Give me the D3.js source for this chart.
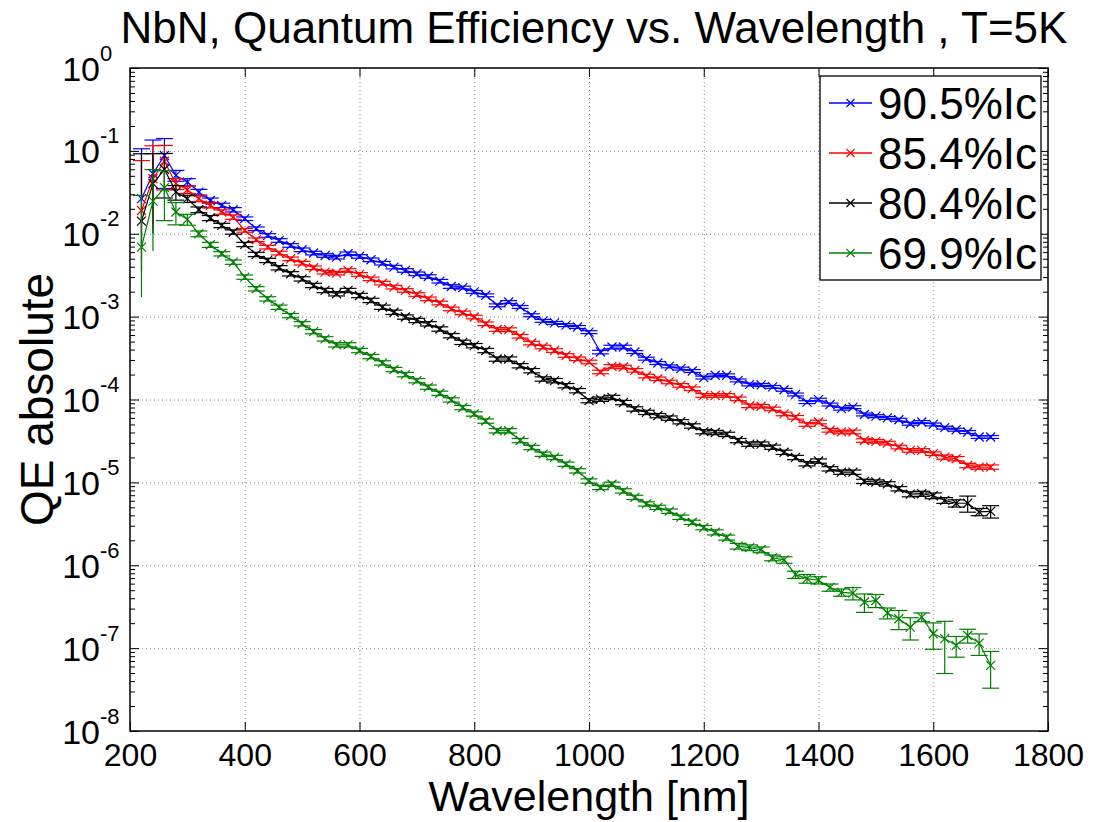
<!DOCTYPE html>
<html>
<head>
<meta charset="utf-8">
<script src="https://cdn.jsdelivr.net/npm/d3@7"></script>
<style>
  body { margin: 0; background: #fff; }
  text { font-family: "Liberation Sans", Arial, Helvetica, sans-serif; fill: #000; }
</style>
</head>
<body>
<svg id="chart" width="1097" height="822"></svg>
<script>
// wavelength [nm] of every measured point
const wavelength = [220, 240, 260, 280, 300, 320, 340, 360, 380, 400, 420, 440, 460, 480, 500,
  520, 540, 560, 580, 600, 620, 640, 660, 680, 700, 720, 740, 760, 780, 800,
  820, 840, 860, 880, 900, 920, 940, 960, 980, 1000, 1020, 1040, 1060, 1080, 1100,
  1120, 1140, 1160, 1180, 1200, 1220, 1240, 1260, 1280, 1300, 1320, 1340, 1360, 1380, 1400,
  1420, 1440, 1460, 1480, 1500, 1520, 1540, 1560, 1580, 1600, 1620, 1640, 1660, 1680, 1700];

// QE values, one array per bias current
const qe905 = [0.0265, 0.053, 0.088, 0.0506, 0.042, 0.0318, 0.0252, 0.022, 0.0195, 0.0152, 0.0115, 0.00955, 0.0083, 0.00723, 0.00641,
  0.00585, 0.00547, 0.00522, 0.00574, 0.00533, 0.00485, 0.00442, 0.00396, 0.00361, 0.00329, 0.00305, 0.00268, 0.00231, 2.24e-3, 1.99e-3,
  1.81e-3, 1.37e-3, 1.50e-3, 1.31e-3, 1.04e-3, 8.9e-4, 8.4e-4, 7.9e-4, 7.5e-4, 6.5e-4, 3.74e-4, 4.3e-4, 4.3e-4, 3.74e-4, 3.11e-4,
  2.76e-4, 2.51e-4, 2.36e-4, 2.21e-4, 1.84e-4, 1.96e-4, 1.96e-4, 1.70e-4, 1.52e-4, 1.5e-4, 1.42e-4, 1.31e-4, 1.15e-4, 9.3e-5, 9.95e-5,
  8.7e-5, 7.75e-5, 8.1e-5, 6.6e-5, 6.3e-5, 6.0e-5, 5.7e-5, 5.1e-5, 5.35e-5, 5.0e-5, 4.57e-5, 4.32e-5, 4.05e-5, 3.53e-5, 3.53e-5];
const qe854 = [0.0191, 0.0461, 0.075, 0.0402, 0.034, 0.0265, 0.022, 0.0183, 0.0159, 0.011, 0.00847, 0.0069, 0.00585, 0.00499, 0.00442,
  0.00389, 0.00344, 0.00335, 0.00361, 0.00323, 0.00286, 0.00254, 0.00227, 0.00207, 0.00185, 0.00164, 0.00146, 0.00124, 1.11e-3, 9.9e-4,
  8.2e-4, 7.0e-4, 6.97e-4, 5.8e-4, 4.8e-4, 4.3e-4, 3.9e-4, 3.4e-4, 3.1e-4, 2.84e-4, 2.15e-4, 2.51e-4, 2.47e-4, 2.25e-4, 1.92e-4,
  1.78e-4, 1.63e-4, 1.48e-4, 1.35e-4, 1.12e-4, 1.12e-4, 1.12e-4, 1.02e-4, 8.4e-5, 8.3e-5, 7.7e-5, 6.7e-5, 6.1e-5, 5.0e-5, 5.35e-5,
  4.25e-5, 4.06e-5, 4.06e-5, 3.2e-5, 3.13e-5, 2.98e-5, 2.67e-5, 2.43e-5, 2.43e-5, 2.22e-5, 2.02e-5, 1.93e-5, 1.6e-5, 1.53e-5, 1.53e-5];
const qe804 = [0.0142, 0.0402, 0.06, 0.0318, 0.0265, 0.0195, 0.0155, 0.0126, 0.0105, 0.00743, 0.00563, 0.00477, 0.00389, 0.00329, 0.00286,
  0.00238, 0.00207, 0.00189, 0.00207, 0.0018, 0.00157, 0.0013, 0.00113, 9.9e-4, 9.0e-4, 8.2e-4, 7.1e-4, 5.9e-4, 4.9e-4, 4.47e-4,
  3.9e-4, 3.08e-4, 3.08e-4, 2.56e-4, 2.23e-4, 1.77e-4, 1.69e-4, 1.47e-4, 1.28e-4, 9.7e-5, 1.01e-4, 1.06e-4, 9.2e-5, 7.7e-5, 7.0e-5,
  6.4e-5, 5.97e-5, 5.4e-5, 4.8e-5, 4.1e-5, 4.0e-5, 3.8e-5, 3.2e-5, 2.9e-5, 2.9e-5, 2.66e-5, 2.31e-5, 2.0e-5, 1.68e-5, 1.81e-5,
  1.46e-5, 1.33e-5, 1.33e-5, 1.03e-5, 1.01e-5, 9.6e-6, 8.4e-6, 7.2e-6, 7.3e-6, 6.9e-6, 6.07e-6, 5.6e-6, 5.6e-6, 4.4e-6, 4.47e-6];
const qe699 = [0.0069, 0.0248, 0.036, 0.0183, 0.0149, 0.0100, 0.00736, 0.00574, 0.00455, 0.0030, 0.00217, 0.00164, 0.0013, 0.00103, 8.2e-4,
  6.6e-4, 5.4e-4, 4.57e-4, 4.57e-4, 3.9e-4, 3.3e-4, 2.77e-4, 2.3e-4, 2.0e-4, 1.69e-4, 1.41e-4, 1.19e-4, 9.9e-5, 8.0e-5, 6.7e-5,
  5.5e-5, 4.2e-5, 4.2e-5, 3.2e-5, 2.64e-5, 2.19e-5, 2.0e-5, 1.66e-5, 1.38e-5, 1.04e-5, 8.7e-6, 9.5e-6, 7.9e-6, 6.6e-6, 5.5e-6,
  5.0e-6, 4.5e-6, 3.8e-6, 3.3e-6, 2.85e-6, 2.5e-6, 2.16e-6, 1.7e-6, 1.63e-6, 1.54e-6, 1.23e-6, 1.16e-6, 7.7e-7, 6.9e-7, 6.6e-7,
  5.4e-7, 4.7e-7, 4.6e-7, 3.6e-7, 3.76e-7, 2.65e-7, 2.26e-7, 1.79e-7, 2.37e-7, 1.49e-7, 1.30e-7, 1.08e-7, 1.42e-7, 1.15e-7, 6.2e-8];

// error bar half heights, as a fraction of each value
const err905 = [3.0, 1.55, 0.6, 0.15, 0.1, 0.08, 0.07, 0.06, 0.06, 0.05, 0.05, 0.05, 0.05, 0.05, 0.05,
  0.05, 0.05, 0.05, 0.05, 0.05, 0.05, 0.05, 0.05, 0.05, 0.05, 0.05, 0.05, 0.05, 0.04, 0.04,
  0.04, 0.04, 0.04, 0.04, 0.04, 0.04, 0.04, 0.04, 0.04, 0.04, 0.05, 0.05, 0.05, 0.04, 0.04,
  0.04, 0.04, 0.04, 0.04, 0.04, 0.04, 0.04, 0.04, 0.04, 0.04, 0.04, 0.04, 0.04, 0.04, 0.04,
  0.04, 0.04, 0.04, 0.04, 0.04, 0.04, 0.04, 0.04, 0.04, 0.04, 0.04, 0.04, 0.04, 0.04, 0.04];
const err854 = [3.0, 1.5, 0.55, 0.15, 0.1, 0.08, 0.07, 0.06, 0.06, 0.05, 0.05, 0.05, 0.05, 0.05, 0.05,
  0.05, 0.05, 0.05, 0.05, 0.05, 0.05, 0.05, 0.05, 0.05, 0.05, 0.05, 0.05, 0.05, 0.05, 0.05,
  0.05, 0.05, 0.05, 0.05, 0.05, 0.05, 0.05, 0.05, 0.05, 0.05, 0.05, 0.05, 0.05, 0.05, 0.05,
  0.05, 0.05, 0.05, 0.05, 0.05, 0.05, 0.05, 0.05, 0.05, 0.05, 0.05, 0.05, 0.05, 0.05, 0.05,
  0.05, 0.05, 0.05, 0.05, 0.05, 0.05, 0.05, 0.05, 0.05, 0.05, 0.06, 0.06, 0.06, 0.06, 0.06];
const err804 = [5.5, 1.3, 0.55, 0.2, 0.1, 0.08, 0.07, 0.06, 0.06, 0.06, 0.06, 0.06, 0.06, 0.06, 0.06,
  0.06, 0.06, 0.06, 0.06, 0.06, 0.06, 0.06, 0.06, 0.06, 0.06, 0.06, 0.06, 0.06, 0.06, 0.06,
  0.06, 0.06, 0.06, 0.06, 0.06, 0.06, 0.06, 0.06, 0.06, 0.06, 0.06, 0.06, 0.06, 0.06, 0.06,
  0.06, 0.06, 0.06, 0.06, 0.06, 0.06, 0.06, 0.06, 0.06, 0.06, 0.06, 0.06, 0.06, 0.06, 0.06,
  0.06, 0.06, 0.06, 0.06, 0.06, 0.06, 0.06, 0.07, 0.07, 0.08, 0.08, 0.1, 0.22, 0.1, 0.17];
const err699 = [3.2, 1.4, 0.6, 0.3, 0.15, 0.08, 0.07, 0.06, 0.06, 0.06, 0.06, 0.06, 0.06, 0.06, 0.06,
  0.06, 0.06, 0.06, 0.06, 0.06, 0.06, 0.06, 0.06, 0.06, 0.06, 0.06, 0.06, 0.06, 0.06, 0.06,
  0.06, 0.06, 0.06, 0.06, 0.06, 0.06, 0.06, 0.06, 0.06, 0.06, 0.06, 0.06, 0.06, 0.06, 0.06,
  0.06, 0.06, 0.06, 0.06, 0.06, 0.07, 0.07, 0.08, 0.08, 0.08, 0.08, 0.09, 0.1, 0.12, 0.1,
  0.1, 0.1, 0.17, 0.25, 0.18, 0.15, 0.26, 0.3, 0.12, 0.35, 0.62, 0.28, 0.19, 0.29, 0.47];

const seriesNames = ["90.5%Ic", "85.4%Ic", "80.4%Ic", "69.9%Ic"];
const seriesColors = ["#0000ff", "#ff0000", "#000000", "#008000"];
const xTicks = [200, 400, 600, 800, 1000, 1200, 1400, 1600, 1800];
const yExponents = [0, -1, -2, -3, -4, -5, -6, -7, -8];

const titleText = "NbN, Quantum Efficiency vs. Wavelength , T=5K";
const xLabel = "Wavelength [nm]";
const yLabel = "QE absolute";

const series = [
  { name: seriesNames[0], color: seriesColors[0], values: qe905, err: err905 },
  { name: seriesNames[1], color: seriesColors[1], values: qe854, err: err854 },
  { name: seriesNames[2], color: seriesColors[2], values: qe804, err: err804 },
  { name: seriesNames[3], color: seriesColors[3], values: qe699, err: err699 }
];

const svg = d3.select("#chart");
const plot = { left: 130, right: 1048, top: 68, bottom: 731 };

const x = d3.scaleLinear().domain([200, 1800]).range([plot.left, plot.right]);
const y = d3.scaleLog().domain([1e-8, 1]).range([plot.bottom, plot.top]);

const yMajor = yExponents.map(e => Math.pow(10, e));
const yMinor = [];
yExponents.slice(0, -1).forEach(e => {
  for (let m = 2; m <= 9; m++) yMinor.push(m * Math.pow(10, e - 1));
});

// dotted grid
svg.append("g")
  .attr("transform", `translate(0,${plot.bottom})`)
  .call(d3.axisBottom(x).tickValues(xTicks.slice(1, -1)).tickSize(-(plot.bottom - plot.top)).tickFormat(""))
  .call(g => g.select(".domain").remove())
  .selectAll("line")
  .attr("stroke", "#888").attr("stroke-dasharray", "1,3");
svg.append("g")
  .attr("transform", `translate(${plot.left},0)`)
  .call(d3.axisLeft(y).tickValues(yMajor.slice(1, -1)).tickSize(-(plot.right - plot.left)).tickFormat(""))
  .call(g => g.select(".domain").remove())
  .selectAll("line")
  .attr("stroke", "#888").attr("stroke-dasharray", "1,3");

// data: error bars, line, markers
const capHalf = 8.5;
const line = d3.line().x(d => x(d.w)).y(d => y(d.v));

series.forEach(s => {
  const pts = wavelength.map((w, i) => ({ w: w, v: s.values[i], e: s.err[i] * s.values[i] }));
  const g = svg.append("g").attr("stroke", s.color).attr("fill", "none").attr("stroke-width", 1.2);

  pts.forEach(p => {
    const cx = x(p.w);
    const hi = p.v + p.e;
    const lo = p.v - p.e;
    const yHi = y(hi);
    const yLo = lo > 0 ? y(lo) : y(p.v / 4);
    g.append("line").attr("x1", cx).attr("x2", cx).attr("y1", yHi).attr("y2", yLo);
    g.append("line").attr("x1", cx - capHalf).attr("x2", cx + capHalf).attr("y1", yHi).attr("y2", yHi);
    if (lo > 0) {
      g.append("line").attr("x1", cx - capHalf).attr("x2", cx + capHalf).attr("y1", yLo).attr("y2", yLo);
    }
  });

  g.append("path").datum(pts).attr("d", line);

  g.selectAll("path.mk")
    .data(pts)
    .join("path")
    .attr("class", "mk")
    .attr("transform", d => `translate(${x(d.w)},${y(d.v)})`)
    .attr("d", "M-4.5,-4.5L4.5,4.5M-4.5,4.5L4.5,-4.5");
});

// axes ticks, inward on all four sides
function styleTicks(g) {
  g.select(".domain").remove();
  g.selectAll("line").attr("stroke", "#000").attr("stroke-width", 1);
}
const xBottom = svg.append("g")
  .attr("transform", `translate(0,${plot.bottom})`)
  .call(d3.axisBottom(x).tickValues(xTicks).tickSize(-9).tickPadding(12).tickFormat(d3.format("d")))
  .call(styleTicks);
xBottom.selectAll("text").attr("font-size", 32).attr("fill", "#000");

svg.append("g")
  .attr("transform", `translate(0,${plot.top})`)
  .call(d3.axisTop(x).tickValues(xTicks).tickSize(-9).tickFormat(""))
  .call(styleTicks);

const yLeft = svg.append("g")
  .attr("transform", `translate(${plot.left},0)`)
  .call(d3.axisLeft(y).tickValues(yMajor).tickSize(-9).tickFormat(""))
  .call(styleTicks);
svg.append("g")
  .attr("transform", `translate(${plot.left},0)`)
  .call(d3.axisLeft(y).tickValues(yMinor).tickSize(-5).tickFormat(""))
  .call(styleTicks);
svg.append("g")
  .attr("transform", `translate(${plot.right},0)`)
  .call(d3.axisRight(y).tickValues(yMajor).tickSize(-9).tickFormat(""))
  .call(styleTicks);
svg.append("g")
  .attr("transform", `translate(${plot.right},0)`)
  .call(d3.axisRight(y).tickValues(yMinor).tickSize(-5).tickFormat(""))
  .call(styleTicks);

// y tick labels as 10 with a raised exponent
yLeft.selectAll(".tick").each(function (d) {
  const t = d3.select(this);
  const e = Math.round(Math.log10(d));
  t.append("text").attr("x", -30).attr("y", 12).attr("text-anchor", "end")
    .attr("font-size", 34).text("10");
  t.append("text").attr("x", -30).attr("y", -8).attr("text-anchor", "start")
    .attr("font-size", 22).text(e);
});

// box
svg.append("rect")
  .attr("x", plot.left).attr("y", plot.top)
  .attr("width", plot.right - plot.left).attr("height", plot.bottom - plot.top)
  .attr("fill", "none").attr("stroke", "#000").attr("stroke-width", 1.5);

// titles
svg.append("text").attr("x", 594).attr("y", 43).attr("text-anchor", "middle")
  .attr("font-size", 44).text(titleText);
svg.append("text").attr("x", (plot.left + plot.right) / 2).attr("y", 811).attr("text-anchor", "middle")
  .attr("font-size", 43).text(xLabel);
svg.append("text")
  .attr("transform", `translate(53,${(plot.top + plot.bottom) / 2}) rotate(-90)`)
  .attr("text-anchor", "middle").attr("font-size", 46).text(yLabel);

// legend
const lg = svg.append("g").attr("transform", "translate(820,76)");
lg.append("rect").attr("width", 221).attr("height", 204)
  .attr("fill", "#fff").attr("stroke", "#000").attr("stroke-width", 1.3);
series.forEach((s, i) => {
  const row = lg.append("g").attr("transform", `translate(0,${27 + i * 50})`);
  row.append("line").attr("x1", 9).attr("x2", 52).attr("stroke", s.color).attr("stroke-width", 1.3);
  row.append("path").attr("transform", "translate(30.5,0)")
    .attr("d", "M-4,-4L4,4M-4,4L4,-4").attr("stroke", s.color).attr("stroke-width", 1.2);
  row.append("text").attr("x", 58).attr("y", 16).attr("font-size", 44).text(s.name);
});
</script>
</body>
</html>
